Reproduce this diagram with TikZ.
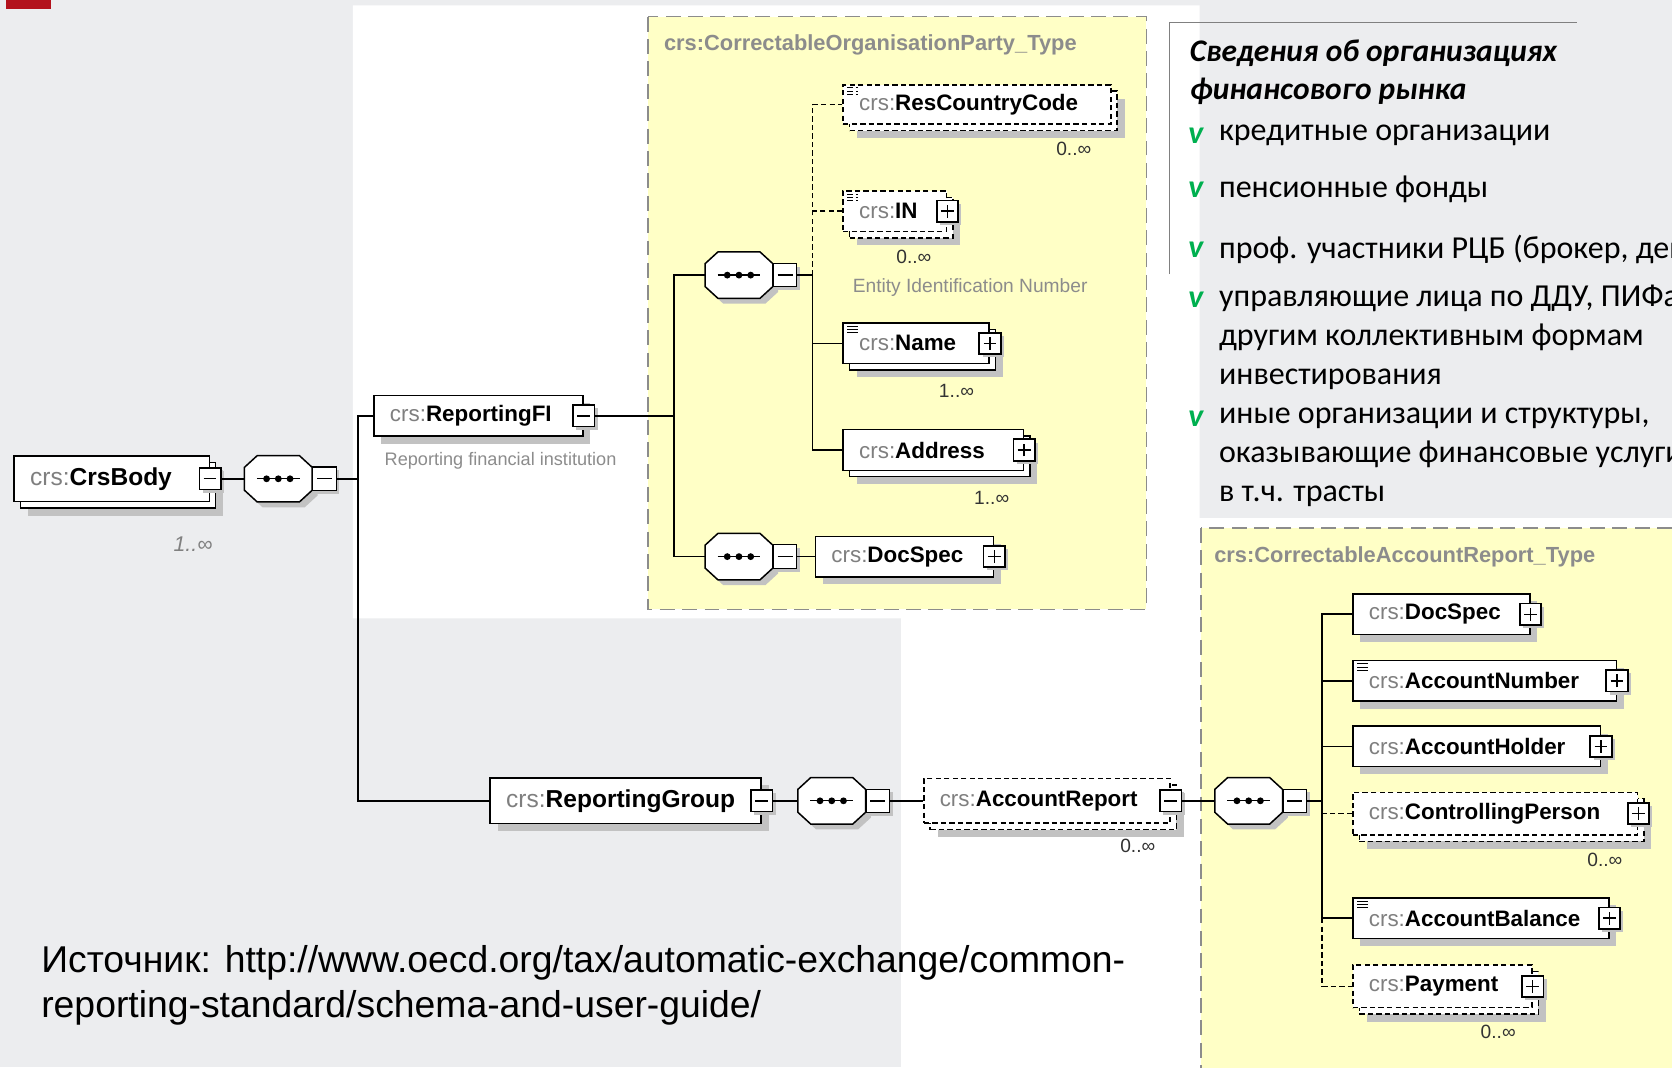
\documentclass[tikz,border=0pt]{standalone}
\usepackage{fontspec}
\setmainfont{Liberation Sans}
\newfontfamily\calib{Carlito}
\usepackage{tikz}
\usetikzlibrary{shadows}
\definecolor{bggray}{HTML}{ECEDEF}
\definecolor{panelyel}{HTML}{FFFFC6}
\definecolor{shgray}{HTML}{C2C2C2}
\definecolor{pfxgray}{HTML}{7F7F7F}
\definecolor{vgreen}{HTML}{00B050}
\definecolor{logored}{HTML}{B3121C}
\newcommand\fsz[1]{\fontsize{#1}{#1}\selectfont}
\newcommand\crs[1]{\mbox{{\color{pfxgray}crs:}\textbf{#1}}}

\begin{document}
\begin{tikzpicture}[x=1pt,y=-1pt,line width=1.5,
   el/.style={draw,fill=white,line width=1.4,minimum height=38,text width=#1-30,inner xsep=15,inner ysep=0,align=left,anchor=west,font=\fsz{21}},
   sh/.style={general shadow={shadow xshift=7pt,shadow yshift=-7pt,fill=shgray,draw=none}},
   stk/.style={general shadow={shadow xshift=13pt,shadow yshift=-13pt,fill=shgray,draw=none},general shadow={shadow xshift=6pt,shadow yshift=-6pt,draw=black,fill=white,line width=1.4,#1}},
   stk/.default={},
   opt/.style={dash pattern=on 5pt off 3pt},
   simp/.style={path picture={\foreach \k in {3pt,6pt,9pt} \draw[black,line width=0.9] ([xshift=4pt,yshift=-\k]path picture bounding box.north west) -- ++(10,0);}},
   pm/.style={draw,fill=white,line width=1.6,minimum size=20,inner sep=0,general shadow={shadow xshift=3pt,shadow yshift=-3pt,fill=shgray,draw=none}},
   minus/.style={pm,path picture={\draw[black,line width=1.3] ([xshift=4pt]path picture bounding box.west) -- ([xshift=-4pt]path picture bounding box.east);}},
   plus/.style={pm,path picture={\draw[black,line width=1.3] ([xshift=4pt]path picture bounding box.west) -- ([xshift=-4pt]path picture bounding box.east) ([yshift=4pt]path picture bounding box.south) -- ([yshift=-4pt]path picture bounding box.north);}},
   seq/.style={minimum width=62,minimum height=42,inner sep=0},
   oct/.style={draw,fill=white,line width=1.4,general shadow={shadow xshift=5pt,shadow yshift=-5pt,fill=shgray,draw=none}},
   seqm/.style={minus,anchor=west,minimum size=22,line width=1.1},
   mult/.style={font=\fsz{18},text=black!80,inner sep=0},
   desc/.style={text=black!45,inner sep=0,anchor=west},
   ttl/.style={font=\fsz{20.5}\bfseries,text=black!45,inner sep=0,anchor=west},
   panel/.style={fill=panelyel,draw=black!45,line width=1.5,dash pattern=on 14pt off 7pt},
   rutext/.style={font=\calib\fontsize{30}{36.5}\selectfont,inner sep=0,anchor=west,align=left},
   bullet/.style={font=\calib\bfseries\itshape\fsz{30},text=vgreen,inner sep=0}]
\useasboundingbox (0,0) rectangle (1568,1001);
\clip (0,0) rectangle (1568,1001);
\fill[bggray] (0,0) rectangle (1568,1001);
\fill[white] (331,5) -- (1125,5) -- (1125,486) -- (1568,486) -- (1568,1001) -- (845,1001) -- (845,580) -- (331,580) -- cycle;
\fill[logored] (6,0) rectangle (48,8);
\draw[panel] (607.6,15.6) rectangle (1075,571.5);
\draw[panel] (1126,495) rectangle (1600,1040);
\draw[black!50,line width=1.3] (1097,257) |- (1479,21);

\node[ttl] (ttl1) at (622,42) {crs:CorrectableOrganisationParty\_Type};
\node[ttl] (ttl2) at (1138,522) {crs:CorrectableAccountReport\_Type};

\node[seq] (seq1) at (261,449) {};
\node[seq] (seq2) at (693,258) {};
\node[seq] (seq3) at (693,522) {};
\node[seq] (seq4) at (780,751) {};
\node[seq] (seq5) at (1171,751) {};
\foreach \s in {seq1,seq2,seq3,seq4,seq5} {
   \draw[oct] ([xshift=12pt]\s.north west) -- ([xshift=-12pt]\s.north east) -- ([yshift=-11pt]\s.north east)
      -- ([yshift=11pt]\s.south east) -- ([xshift=-12pt]\s.south east) -- ([xshift=12pt]\s.south west)
      -- ([yshift=11pt]\s.south west) -- ([yshift=-11pt]\s.north west) -- cycle;
   \draw[line width=1.2] ([xshift=-20pt]\s.center) -- ([xshift=20pt]\s.center);
   \foreach \d in {-11pt,0pt,11pt}
      \fill ([xshift=\d]\s.center) circle (3.2);
   \node[seqm] (\s M) at (\s.east) {};
}

\node[el=183,minimum height=43,font=\fsz{23},stk] (crsbody) at (12.6,449) {\crs{CrsBody}};
\node[minus] (crsbodyM) at (crsbody.east) {};
\node[font=\fsz{20}\itshape,text=black!50,inner sep=0] (crsmult) at (181,510) {1..∞};
\node[el=196,sh] (repfi) at (350,390) {\crs{ReportingFI}};
\node[minus] (repfiM) at (repfi.east) {};
\node[desc,font=\fsz{17}] (repfiD) at (360,432) {Reporting financial institution};

\node[el=251,minimum height=37,stk=opt,opt,simp] (rescc) at (790,98) {\crs{ResCountryCode}};
\node[el=97,stk=opt,opt,simp] (in) at (790,198) {\crs{IN}};
\node[plus] (inP) at (in.east) {};
\node[desc,font=\fsz{18}] (inD) at (799,270) {Entity Identification Number};
\node[el=137,stk,simp] (name) at (790,322) {\crs{Name}};
\node[plus] (nameP) at (name.east) {};
\node[el=169,stk] (address) at (790,422) {\crs{Address}};
\node[plus] (addressP) at (address.east) {};
\node[el=167,sh] (docspec1) at (764,522) {\crs{DocSpec}};
\node[plus] (docspec1P) at (docspec1.east) {};

\node[el=254,minimum height=43,font=\fsz{23},sh] (repgrp) at (459,751) {\crs{ReportingGroup}};
\node[minus] (repgrpM) at (repgrp.east) {};
\node[el=231,minimum height=42,stk=opt,opt] (accrep) at (865.6,751) {\crs{AccountReport}};
\node[minus] (accrepM) at (accrep.east) {};
\node[el=166,sh] (docspec2) at (1268,576) {\crs{DocSpec}};
\node[plus] (docspec2P) at (docspec2.east) {};
\node[el=247,sh,simp] (accnum) at (1268,638.5) {\crs{AccountNumber}};
\node[plus] (accnumP) at (accnum.east) {};
\node[el=232,sh] (acchold) at (1268,700) {\crs{AccountHolder}};
\node[plus] (accholdP) at (acchold.east) {};
\node[el=267,minimum height=40,stk=opt,opt] (ctrlp) at (1268,763) {\crs{ControllingPerson}};
\node[plus] (ctrlpP) at (ctrlp.east) {};
\node[el=240,sh,simp] (accbal) at (1268,861) {\crs{AccountBalance}};
\node[plus] (accbalP) at (accbal.east) {};
\node[el=168,minimum height=40,stk=opt,opt] (payment) at (1268,925) {\crs{Payment}};
\node[plus] (paymentP) at (payment.east) {};

\foreach \n/\x/\y/\lo in {mrescc/1007/140/0,min/857/241/0,mname/897/367/1,maddress/930/467/1,maccrep/1067/793/0,mctrlp/1505/806/0,mpayment/1405/968/0}
   \node[mult] (\n) at (\x,\y) {\lo..∞};

\coordinate (tr1) at (336,0);
\coordinate (tr2) at (632,0);
\coordinate (tr3) at (762,0);
\coordinate (tr4) at (1240,0);
\draw (crsbodyM.east) -- (seq1.west);
\draw (seq1M.east) -- (seq1M.east -| tr1) |- (repfi.west);
\draw (seq1M.east -| tr1) |- (repgrp.west);
\draw (repfiM.east) -- (repfiM.east -| tr2);
\draw (seq2.west) -| (tr2 |- seq3.west) -- (seq3.west);
\draw (seq2M.east) -- (seq2M.east -| tr3) |- (address.west);
\draw (name.west) -- (name.west -| tr3);
\draw[opt] (seq2M.east -| tr3) |- (rescc.west);
\draw[opt] (in.west) -- (in.west -| tr3);
\draw (seq3M.east) -- (docspec1.west);
\draw (repgrpM.east) -- (seq4.west);
\draw (seq4M.east) -- (accrep.west);
\draw (accrepM.east) -- (seq5.west);
\draw (seq5M.east) -- (seq5M.east -| tr4);
\draw (docspec2.west) -| (tr4 |- accbal.west) -- (accbal.west);
\draw (accnum.west) -- (accnum.west -| tr4);
\draw (acchold.west) -- (acchold.west -| tr4);
\draw[opt] (ctrlp.west) -- (ctrlp.west -| tr4);
\draw[opt] (tr4 |- accbal.west) |- (payment.west);

\node[rutext,font=\calib\bfseries\itshape\fontsize{29.5}{36}\selectfont] (head) at (1115,68) {Сведения об организациях\\финансового рынка};
\foreach \y [count=\i] in {127,178,234,281,393}
   \node[bullet] (v\i) at (1121.5,\y) {v};
\node[rutext] (it1) at (1142.5,127) {кредитные организации};
\node[rutext] (it2) at (1142.5,178) {пенсионные фонды};
\node[rutext] (it3) at (1142.5,234) {проф. участники РЦБ (брокер, деп};
\node[rutext] (it4) at (1142.5,316) {управляющие лица по ДДУ, ПИФам\\другим коллективным формам\\инвестирования};
\node[rutext] (it5) at (1142.5,429) {иные организации и структуры,\\оказывающие финансовые услуги,\\в т.ч. трасты};

\node[font=\fontsize{35}{42}\selectfont,inner sep=0,anchor=west,align=left] (src) at (38,924) {Источник: http://www.oecd.org/tax/automatic-exchange/common-\\reporting-standard/schema-and-user-guide/};
\end{tikzpicture}
\end{document}
